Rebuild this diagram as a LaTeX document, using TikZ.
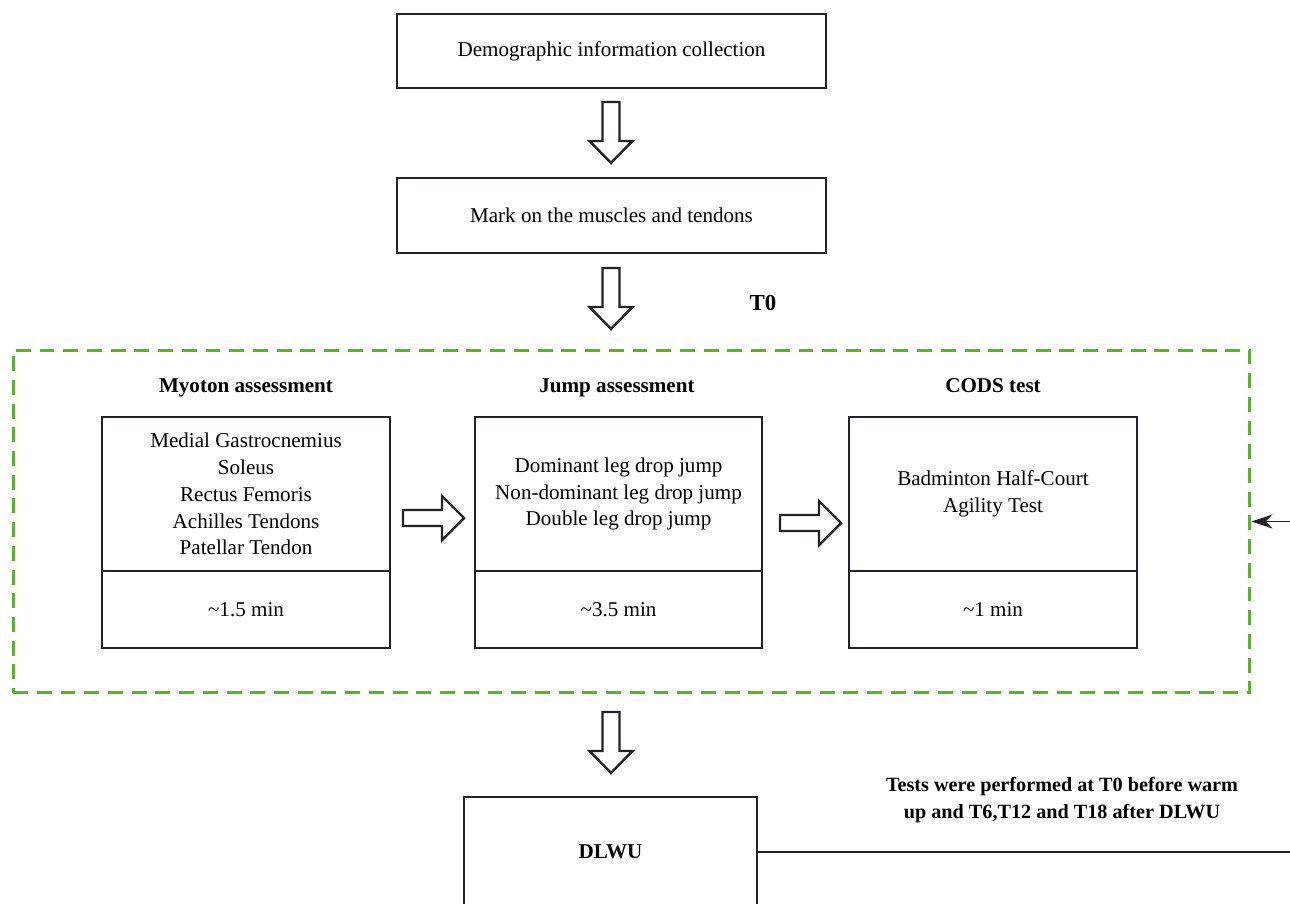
\documentclass[tikz,border=0pt]{standalone}
\usepackage{fontspec}
\setmainfont{Liberation Serif}
\usepackage{tikz}
\usetikzlibrary{arrows.meta}
\definecolor{ink}{HTML}{1F2328}
\definecolor{grn}{HTML}{55B820}
\tikzset{
  box/.style={draw=ink, line width=1.1pt, font=\fontsize{12}{15.3}\selectfont, align=center, inner sep=0pt},
  grp/.style={draw=grn, line width=1.7pt, dash pattern=on 8.5pt off 5pt, inner sep=0pt},
  ttl/.style={font=\fontsize{12}{15.3}\selectfont\bfseries, anchor=base},
  note/.style={font=\fontsize{11.5}{15.3}\selectfont\bfseries, align=center},
  hol/.style={draw=ink, line width=1.4pt, line join=miter, fill=white},
  link/.style={draw=ink, line width=1.1pt},
  pics/dnarrow/.style={code={
    \draw[hol] (-8.5,0) -- (8.5,0) -- (8.5,39) -- (21.5,39) -- (0,61) -- (-21.5,39) -- (-8.5,39) -- cycle;}},
  pics/rtarrow/.style={code={
    \draw[hol] (0,-8) -- (39,-8) -- (39,-22) -- (61,0) -- (39,22) -- (39,8) -- (0,8) -- cycle;}},
}
\begin{document}
\begin{tikzpicture}[x=0.02cm, y=-0.02cm]
  \useasboundingbox (0,0) rectangle (1290,903);
  % top boxes
  \node[box, minimum width=8.58cm, minimum height=1.48cm] (demo) at (611.5,51) {Demographic information collection};
  \node[box, minimum width=8.58cm, minimum height=1.5cm] (mark) at (611.5,215.5) {Mark on the muscles and tendons};
  \pic at (611,102) {dnarrow};
  \pic at (611,268) {dnarrow};
  \node[ttl, font=\fontsize{13}{15}\selectfont\bfseries] (tz) at (763,310) {T0};
  % test block
  \node[grp, minimum width=24.74cm, minimum height=6.86cm] (tests) at (631.5,521.5) {};
  \node[ttl] (myoT) at (246,392) {Myoton assessment};
  \node[ttl] (jumpT) at (617,392) {Jump assessment};
  \node[ttl] (codsT) at (993,392) {CODS test};
  \node[box, minimum width=5.76cm, minimum height=3.08cm] (myo) at (246,494)
    {Medial Gastrocnemius\\Soleus\\Rectus Femoris\\Achilles Tendons\\Patellar Tendon};
  \node[box, minimum width=5.76cm, minimum height=1.54cm] (myoTime) at (246,609.5) {\textasciitilde1.5 min};
  \node[box, minimum width=5.74cm, minimum height=3.08cm] (jump) at (618.5,494)
    {Dominant leg drop jump\\Non-dominant leg drop jump\\Double leg drop jump};
  \node[box, minimum width=5.74cm, minimum height=1.54cm] (jumpTime) at (618.5,609.5) {\textasciitilde3.5 min};
  \node[box, minimum width=5.76cm, minimum height=3.08cm] (cods) at (993,494)
    {Badminton Half-Court\\Agility Test};
  \node[box, minimum width=5.76cm, minimum height=1.54cm] (codsTime) at (993,609.5) {\textasciitilde1 min};
  \pic at (403,518) {rtarrow};
  \pic at (780,523) {rtarrow};
  % warm up
  \pic at (611,712) {dnarrow};
  \node[box, font=\fontsize{12}{15.3}\selectfont\bfseries, minimum width=5.86cm, minimum height=2.2cm] (dlwu) at (610.5,852) {DLWU};
  \node[note] (rep) at (1062,800) {Tests were performed at T0 before warm\\up and T6,T12 and T18 after DLWU};
  \coordinate (back) at (1320,852);
  \draw[link, -{Stealth[length=12pt,width=8pt]}] (dlwu.east) -- (back) |- (tests.east);
\end{tikzpicture}
\end{document}
